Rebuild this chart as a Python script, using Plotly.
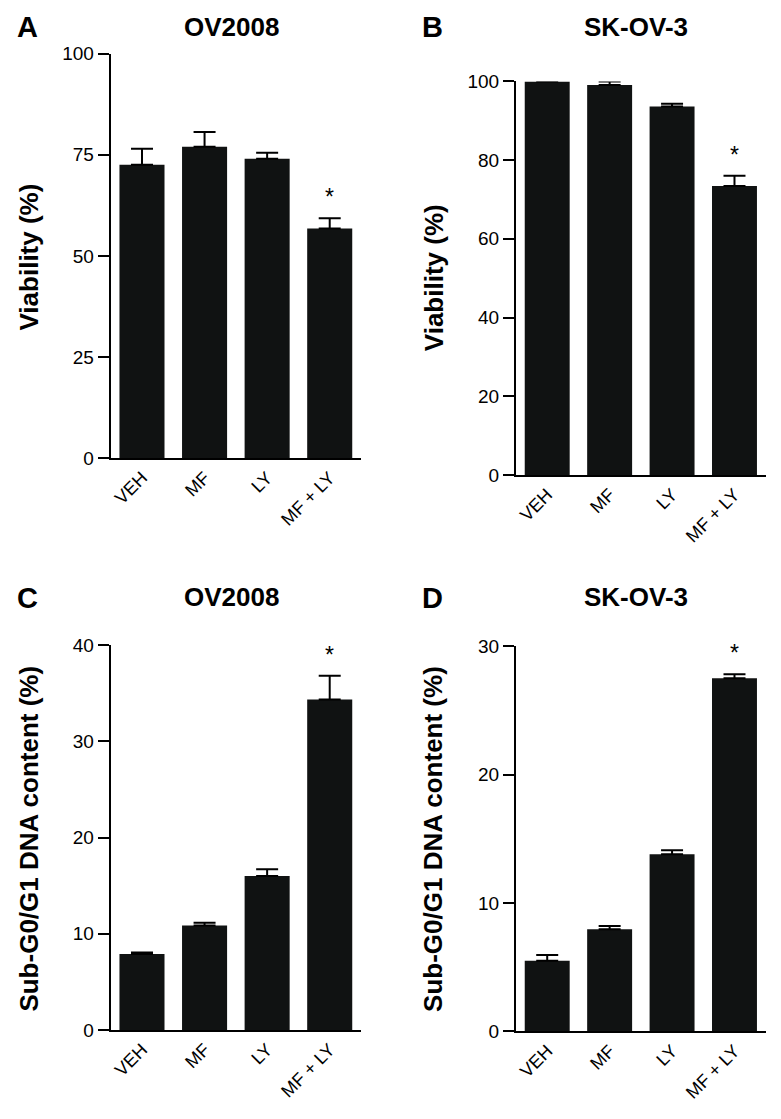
# Four-panel bar chart: viability and sub-G0/G1 DNA content, OV2008 and SK-OV-3

import plotly.graph_objects as go

treatments = ["VEH", "MF", "LY", "MF + LY"]

# panel A - OV2008 viability
viabOV = [72.5, 77.0, 74.0, 56.8]
viabOVerr = [4.0, 3.6, 1.5, 2.5]

# panel B - SK-OV-3 viability
viabSK = [100.0, 99.1, 93.6, 73.4]
viabSKerr = [0.3, 0.9, 0.7, 2.6]

# panel C - OV2008 sub-G0/G1
subgOV = [7.9, 10.85, 16.0, 34.35]
subgOVerr = [0.15, 0.3, 0.7, 2.45]

# panel D - SK-OV-3 sub-G0/G1
subgSK = [5.5, 7.95, 13.8, 27.5]
subgSKerr = [0.45, 0.25, 0.3, 0.3]

# significance marks (index of treatment)
starIdx = 3

barColor = "#101212"
fontFam = "Liberation Sans, Arial, sans-serif"

# the page body has an 8px margin, so the figure is laid out in page pixels
# shifted by that much
W, H, OFF = 765, 1103, 8


def px(x):
    return (x - OFF) / W


def py(y):
    return 1 - (y - OFF) / H


panels = [
    # letter, title, ytitle, values, errors, yrange, dtick,
    # plot box in page px (left, right, top, bottom), letter pos, title pos, ytitle pos
    ("A", "OV2008", "Viability (%)", viabOV, viabOVerr, [0, 100], 25,
     (110.7, 361, 53.6, 458.2), (27, 27), (231, 26.5), (28.5, 257)),
    ("B", "SK-OV-3", "Viability (%)", viabSK, viabSKerr, [0, 100], 20,
     (516, 765.7, 81.4, 475), (432, 27), (635.7, 26.5), (433.5, 277.7)),
    ("C", "OV2008", "Sub-G0/G1 DNA content (%)", subgOV, subgOVerr, [0, 40], 10,
     (110.7, 361, 645, 1030), (27, 598), (231, 596.6), (29, 838.6)),
    ("D", "SK-OV-3", "Sub-G0/G1 DNA content (%)", subgSK, subgSKerr, [0, 30], 10,
     (516, 765.7, 646.1, 1031.4), (432, 598), (635.7, 596.6), (433.5, 839.4)),
]

fig = go.Figure()
annots = []

for i, (letter, title, ytitle, vals, errs, yrng, dtk, box, letPos, titPos, ytPos) in enumerate(panels):
    n = "" if i == 0 else str(i + 1)
    fig.add_trace(go.Bar(
        x=treatments, y=vals,
        xaxis="x" + n, yaxis="y" + n,
        width=0.72,
        marker=dict(color=barColor, line=dict(width=0)),
        error_y=dict(type="data", symmetric=False, array=errs,
                     arrayminus=[0] * len(errs),
                     color="#000000", thickness=2, width=11),
        cliponaxis=False,
        showlegend=False,
    ))

    fig.layout["xaxis" + n] = dict(
        domain=[px(box[0]), px(box[1])], anchor="y" + n, range=[-0.5, 3.5],
        showline=True, linecolor="#000000", linewidth=2,
        ticks="", tickangle=-45, automargin=False,
        tickfont=dict(family=fontFam, size=18, color="#000000"),
        showgrid=False, zeroline=False, fixedrange=True,
    )
    fig.layout["yaxis" + n] = dict(
        domain=[py(box[3]), py(box[2])], anchor="x" + n, range=yrng, dtick=dtk,
        showline=True, linecolor="#000000", linewidth=2, automargin=False,
        ticks="outside", ticklen=11, tickwidth=2, tickcolor="#000000",
        tickfont=dict(family=fontFam, size=19, color="#000000"),
        showgrid=False, zeroline=False, fixedrange=True,
    )

    # panel letter
    annots.append(dict(
        text="<b>" + letter + "</b>", xref="paper", yref="paper",
        x=px(letPos[0]), y=py(letPos[1]),
        showarrow=False, xanchor="center", yanchor="middle",
        font=dict(family=fontFam, size=29, color="#000000"),
    ))
    # panel title
    annots.append(dict(
        text="<b>" + title + "</b>", xref="paper", yref="paper",
        x=px(titPos[0]), y=py(titPos[1]),
        showarrow=False, xanchor="center", yanchor="middle",
        font=dict(family=fontFam, size=26, color="#000000"),
    ))
    # y-axis title
    annots.append(dict(
        text="<b>" + ytitle + "</b>", xref="paper", yref="paper",
        x=px(ytPos[0]), y=py(ytPos[1]),
        showarrow=False, xanchor="center", yanchor="middle", textangle=-90,
        font=dict(family=fontFam, size=26, color="#000000"),
    ))
    # significance star
    annots.append(dict(
        text="*", xref="x" + n, yref="y" + n,
        x=treatments[starIdx], y=vals[starIdx] + errs[starIdx],
        showarrow=False, xanchor="center", yanchor="middle", yshift=21,
        font=dict(family=fontFam, size=23, color="#000000"),
    ))

fig.update_layout(
    width=W, height=H,
    margin=dict(l=0, r=0, t=0, b=0),
    paper_bgcolor="#ffffff", plot_bgcolor="#ffffff",
    annotations=annots,
    font=dict(family=fontFam, color="#000000"),
)

fig.write_html("out.html")
